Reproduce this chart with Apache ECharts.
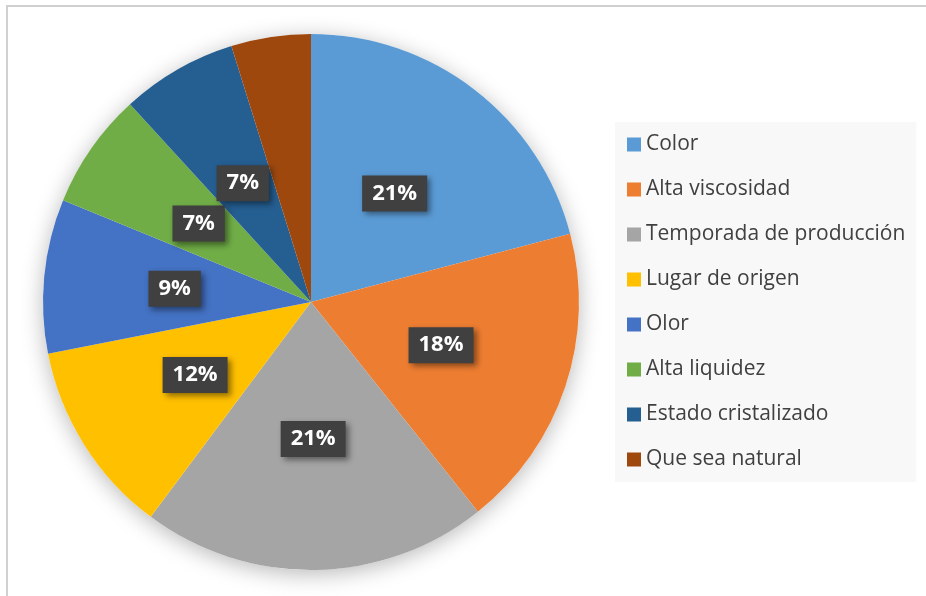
<!DOCTYPE html>
<html>
<head>
<meta charset="utf-8">
<script src="https://cdn.jsdelivr.net/npm/echarts@6/dist/echarts.min.js"></script>
<style>
  html, body { margin: 0; padding: 0; background: #fff; }
  #main { position: absolute; left: 0; top: 0; width: 926px; height: 596px; }
  #frame { position: absolute; left: 6px; top: 5px; width: 960px; height: 640px;
           border: 2px solid #d0d0d0; pointer-events: none; }
</style>
</head>
<body>
<div id="main"></div>
<div id="frame"></div>
<script>
// categorías y valores (porcentaje)
const categories = ['Color', 'Alta viscosidad', 'Temporada de producción', 'Lugar de origen',
                    'Olor', 'Alta liquidez', 'Estado cristalizado', 'Que sea natural'];
const values = [20.9, 18.4, 20.9, 11.7, 9.3, 7.0, 7.0, 4.8];
const colors = ['#5B9BD5', '#ED7D31', '#A5A5A5', '#FFC000', '#4472C4', '#70AD47', '#255E91', '#9E480E'];

const chart = echarts.init(document.getElementById('main'), null, { renderer: 'canvas' });

const option = {
  animation: false,
  color: colors,
  legend: {
    data: categories,
    orient: 'vertical',
    left: 615,
    top: 122,
    padding: [12, 11, 12, 12],
    backgroundColor: '#f8f8f8',
    icon: 'rect',
    itemWidth: 14,
    itemHeight: 14,
    itemGap: 24,
    selectedMode: false,
    textStyle: {
      fontFamily: 'Open Sans',
      fontSize: 21,
      lineHeight: 21,
      color: '#404040'
    }
  },
  series: [
    {
      // sombra del círculo, detrás de los sectores
      type: 'pie',
      silent: true,
      center: [311, 302],
      radius: 268,
      z: 1,
      label: { show: false },
      labelLine: { show: false },
      itemStyle: {
        color: '#ffffff',
        shadowBlur: 22,
        shadowColor: 'rgba(0,0,0,0.28)',
        shadowOffsetY: 4
      },
      data: [{ value: 1, name: '_sombra' }]
    },
    {
      type: 'pie',
      center: [311, 302],
      radius: 268,
      startAngle: 90,
      clockwise: true,
      z: 2,
      percentPrecision: 0,
      avoidLabelOverlap: false,
      emphasis: { disabled: true },
      itemStyle: { borderWidth: 0 },
      labelLine: { show: false },
      label: {
        show: true,
        position: 'inside',
        formatter: '{d}%',
        fontFamily: 'Open Sans',
        fontWeight: 'bold',
        fontSize: 22,
        color: '#ffffff',
        backgroundColor: '#404040',
        padding: [7, 10, 7, 10],
        shadowColor: 'rgba(0,0,0,0.45)',
        shadowBlur: 6,
        shadowOffsetX: 3,
        shadowOffsetY: 3
      },
      data: categories.map((name, i) => ({ name: name, value: values[i] }))
    }
  ]
};

chart.setOption(option);
</script>
</body>
</html>
